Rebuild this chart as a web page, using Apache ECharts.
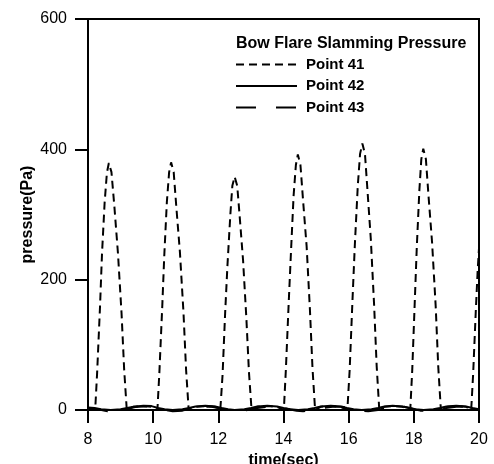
<!DOCTYPE html>
<html>
<head>
<meta charset="utf-8">
<script src="https://cdn.jsdelivr.net/npm/echarts@6/dist/echarts.min.js"></script>
<style>
html,body{margin:0;padding:0;background:#fff;}
#chart{width:494px;height:464px;}
</style>
</head>
<body>
<div id="chart"></div>
<script>
// ---- data (time in sec, pressure in Pa) ----
var legendTitle = 'Bow Flare Slamming Pressure';
var seriesNames = ['Point 41', 'Point 42', 'Point 43'];
var xTicks = [8, 10, 12, 14, 16, 18, 20];
var yTicks = [0, 200, 400, 600];

var point41 = [
  [8.0,3],[8.22,0],[8.28,57],[8.37,160],[8.43,240],[8.51,318],[8.58,364],[8.64,379],[8.72,365],[8.81,312],[8.92,240],[9.03,148],[9.11,62],[9.19,0],
  [9.4,5],[9.7,6],[9.95,5],
  [10.13,0],[10.19,57],[10.28,160],[10.34,236],[10.42,319],[10.49,365],[10.55,380],[10.63,365],[10.71,312],[10.82,243],[10.93,150],[11.01,62],[11.09,0],
  [11.3,5],[11.6,6],[11.9,5],
  [12.06,0],[12.13,54],[12.21,150],[12.28,222],[12.37,301],[12.43,344],[12.50,358],[12.58,344],[12.66,294],[12.76,229],[12.86,141],[12.94,58],[13.02,0],
  [13.2,5],[13.5,6],[13.8,5],
  [14.01,0],[14.07,59],[14.16,165],[14.23,243],[14.31,329],[14.38,376],[14.44,392],[14.52,376],[14.60,322],[14.71,251],[14.81,155],[14.89,64],[14.97,0],
  [15.15,5],[15.45,6],[15.75,5],
  [15.96,0],[16.03,61],[16.12,172],[16.19,254],[16.28,344],[16.35,393],[16.42,409],[16.50,393],[16.58,335],[16.68,262],[16.78,162],[16.86,67],[16.94,0],
  [17.1,5],[17.35,6],[17.65,5],
  [17.89,0],[17.95,60],[18.03,168],[18.09,249],[18.17,337],[18.23,385],[18.29,401],[18.37,385],[18.45,329],[18.56,257],[18.67,160],[18.75,66],[18.83,0],
  [19.0,5],[19.3,6],[19.6,5],
  [19.76,0],[19.82,55],[19.90,150],[19.96,215],[20.0,248]
];

var point42 = [
  [8.0,4],[8.2,3],[8.4,1],[8.7,0],[9.0,1],[9.2,3],[9.4,5],[9.7,6.5],[9.95,6],[10.15,3],[10.35,1],[10.6,0],
  [10.9,1],[11.1,3],[11.3,5.5],[11.6,6.5],[11.9,5.5],[12.1,3],[12.3,1],[12.5,0],
  [12.8,1],[13.0,3],[13.2,5.5],[13.5,6.5],[13.8,5.5],[14.0,3],[14.2,1],[14.45,0],
  [14.75,1],[14.95,3],[15.15,5.5],[15.45,6.5],[15.75,5.5],[15.95,3],[16.15,1],[16.4,0],
  [16.7,1],[16.9,3],[17.1,5.5],[17.35,6.5],[17.65,5.5],[17.88,3],[18.05,1],[18.3,0],
  [18.6,1],[18.8,3],[19.0,5.5],[19.3,6.5],[19.6,5.5],[19.8,3],[20.0,1]
];

var point43 = [
  [8.0,3],[8.3,1],[8.6,-2],[8.9,-1],[9.2,2],[9.5,5],[9.8,5.5],[10.1,3],[10.4,0],[10.6,-2],
  [10.9,-1],[11.2,3],[11.5,5],[11.8,5],[12.1,2],[12.4,-1],[12.6,-2],
  [12.9,0],[13.2,3],[13.5,5],[13.8,5],[14.1,2],[14.4,-1],[14.6,-2],
  [14.9,0],[15.2,3],[15.5,5],[15.8,5],[16.1,2],[16.3,-1],[16.6,-2],
  [16.9,0],[17.1,3],[17.4,5],[17.7,5],[17.95,2],[18.2,-1],[18.5,-2],
  [18.8,0],[19.0,3],[19.3,5],[19.6,5],[19.85,2],[20.0,0]
];

var FONT = '"Liberation Sans", Arial, Helvetica, sans-serif';
var chart = echarts.init(document.getElementById('chart'), null, {renderer: 'canvas'});

function mkSeries(name, data, dash, width) {
  return {
    name: name, type: 'line', data: data, symbol: 'none', clip: false,
    smooth: false, animation: false,
    lineStyle: {color: '#000', width: width, type: dash},
    itemStyle: {color: '#000', opacity: 0}
  };
}

chart.setOption({
  animation: false,
  backgroundColor: '#fff',
  grid: {left: 88, right: 15, top: 19, bottom: 54, containLabel: false, outerBoundsMode: 'none',
         show: true, borderColor: '#000', borderWidth: 2, backgroundColor: 'transparent'},
  graphic: [{
    type: 'text', left: 236, top: 36,
    style: {text: legendTitle, font: 'bold 16px ' + FONT, fill: '#000'}
  }],
  legend: {
    orient: 'vertical', left: 235, top: 57, padding: 0, itemWidth: 61, itemHeight: 14, itemGap: 6.5,
    data: seriesNames,
    itemStyle: {opacity: 0},
    textStyle: {fontFamily: FONT, fontWeight: 'bold', fontSize: 15, color: '#000', padding: [0, 0, 0, 4]},
    inactiveColor: '#000'
  },
  xAxis: {
    type: 'value', min: xTicks[0], max: xTicks[xTicks.length - 1], interval: 2,
    name: 'time(sec)', nameLocation: 'middle', nameGap: 31,
    nameTextStyle: {fontFamily: FONT, fontWeight: 'bold', fontSize: 16, color: '#000'},
    axisLine: {show: true, onZero: false, lineStyle: {color: '#000', width: 2}},
    axisTick: {show: true, inside: false, length: 13, lineStyle: {color: '#000', width: 2}},
    axisLabel: {fontFamily: FONT, fontSize: 16, color: '#000', margin: 22},
    splitLine: {show: false}
  },
  yAxis: {
    type: 'value', min: yTicks[0], max: yTicks[yTicks.length - 1], interval: 200,
    name: 'pressure(Pa)', nameLocation: 'middle', nameGap: 52, nameRotate: 90, nameMoveOverlap: false,
    nameTextStyle: {fontFamily: FONT, fontWeight: 'bold', fontSize: 16, color: '#000'},
    axisLine: {show: true, onZero: false, lineStyle: {color: '#000', width: 2}},
    axisTick: {show: true, inside: false, length: 13, lineStyle: {color: '#000', width: 2}},
    axisLabel: {fontFamily: FONT, fontSize: 16, color: '#000', margin: 21},
    splitLine: {show: false}
  },
  series: [
    mkSeries(seriesNames[0], point41, [8, 5], 2),
    mkSeries(seriesNames[1], point42, 'solid', 2),
    mkSeries(seriesNames[2], point43, [20, 20], 2)
  ]
});
</script>
</body>
</html>
